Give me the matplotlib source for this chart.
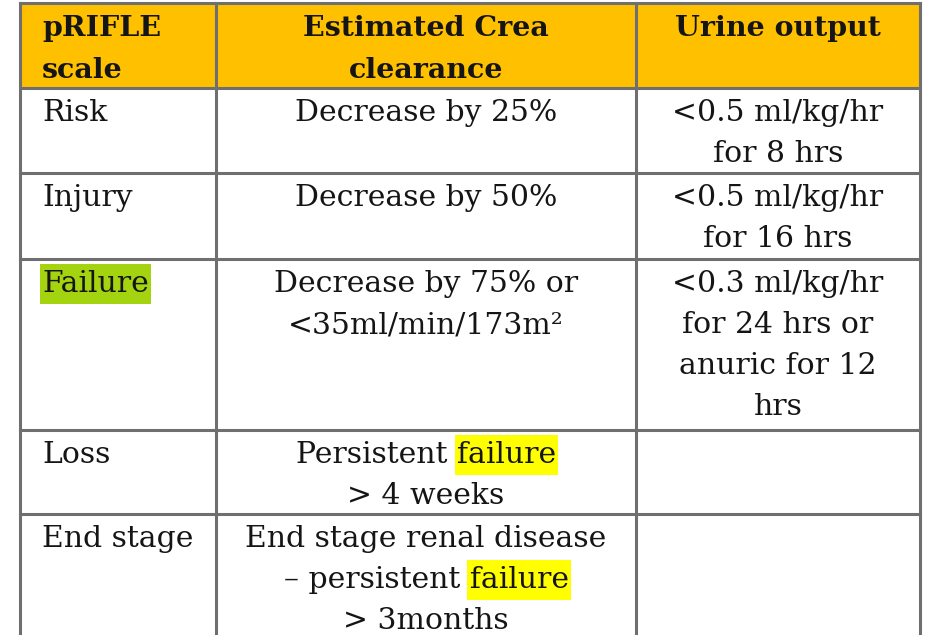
import matplotlib
matplotlib.use("Agg")
import matplotlib.pyplot as plt
from matplotlib.patches import Rectangle

# table content
headers = [["pRIFLE", "scale"], ["Estimated Crea", "clearance"], ["Urine output"]]
stages = ["Risk", "Injury", "Failure", "Loss", "End stage"]
crea = [
    ["Decrease by 25%"],
    ["Decrease by 50%"],
    ["Decrease by 75% or", "<35ml/min/173m\u00b2"],
    ["Persistent failure", "> 4 weeks"],
    ["End stage renal disease", "\u2013 persistent failure", "> 3months"],
]
urine = [
    ["<0.5 ml/kg/hr", "for 8 hrs"],
    ["<0.5 ml/kg/hr", "for 16 hrs"],
    ["<0.3 ml/kg/hr", "for 24 hrs or", "anuric for 12", "hrs"],
    [],
    [],
]
# words with highlight colours
word_mark = {"Failure": "#a4d30f", "failure": "#ffff00"}

# layout (pixels)
W, H = 950, 635
col_x = [20, 216, 636, 920]
row_y = [3, 88, 173, 259, 430, 514, 700]
first_line = 27
line_h = 41
fs = 21.5
font = "DejaVu Serif"
grid_col = "#6f6f6f"
head_col = "#ffc000"

fig = plt.figure(figsize=(W / 100, H / 100), dpi=100)
ax = fig.add_axes([0, 0, 1, 1])
ax.set_xlim(0, W)
ax.set_ylim(H, 0)
ax.axis("off")
renderer = fig.canvas.get_renderer()

ax.add_patch(Rectangle((col_x[0], row_y[0]), col_x[-1] - col_x[0], row_y[1] - row_y[0],
                       facecolor=head_col, edgecolor="none", zorder=0))
for y in row_y[:-1]:
    ax.plot([col_x[0], col_x[-1]], [y, y], color=grid_col, lw=2.2, zorder=3)
for x in col_x:
    ax.plot([x, x], [row_y[0], H], color=grid_col, lw=2.2, zorder=3)


def text_width(s):
    t = ax.text(0, 0, s, fontsize=fs, family=font)
    w = t.get_window_extent(renderer).width
    t.remove()
    return w


def cell_lines(lines, x, top, ha, bold=False):
    for i, s in enumerate(lines):
        y = top + first_line + i * line_h
        ax.text(x, y, s, fontsize=fs - (1 if bold else 0), family=font, ha=ha, va="center",
                fontweight="bold" if bold else "normal", color="#151515", zorder=4)
        for word, c in word_mark.items():
            if s.endswith(word):
                total = text_width(s)
                ww = text_width(word)
                right = x + total if ha == "left" else x + total / 2
                ax.add_patch(Rectangle((right - ww - 2, y - 20), ww + 4, 40,
                                       facecolor=c, edgecolor="none", zorder=2))


# header
cell_lines(headers[0], col_x[0] + 22, row_y[0] - 1, "left", bold=True)
cell_lines(headers[1], (col_x[1] + col_x[2]) / 2, row_y[0] - 1, "center", bold=True)
cell_lines(headers[2], (col_x[2] + col_x[3]) / 2, row_y[0] - 1, "center", bold=True)

for r in range(len(stages)):
    top = row_y[r + 1] - 2
    cell_lines([stages[r]], col_x[0] + 22, top, "left")
    cell_lines(crea[r], (col_x[1] + col_x[2]) / 2, top, "center")
    cell_lines(urine[r], (col_x[2] + col_x[3]) / 2, top, "center")

fig.savefig("out.png", dpi=100)
